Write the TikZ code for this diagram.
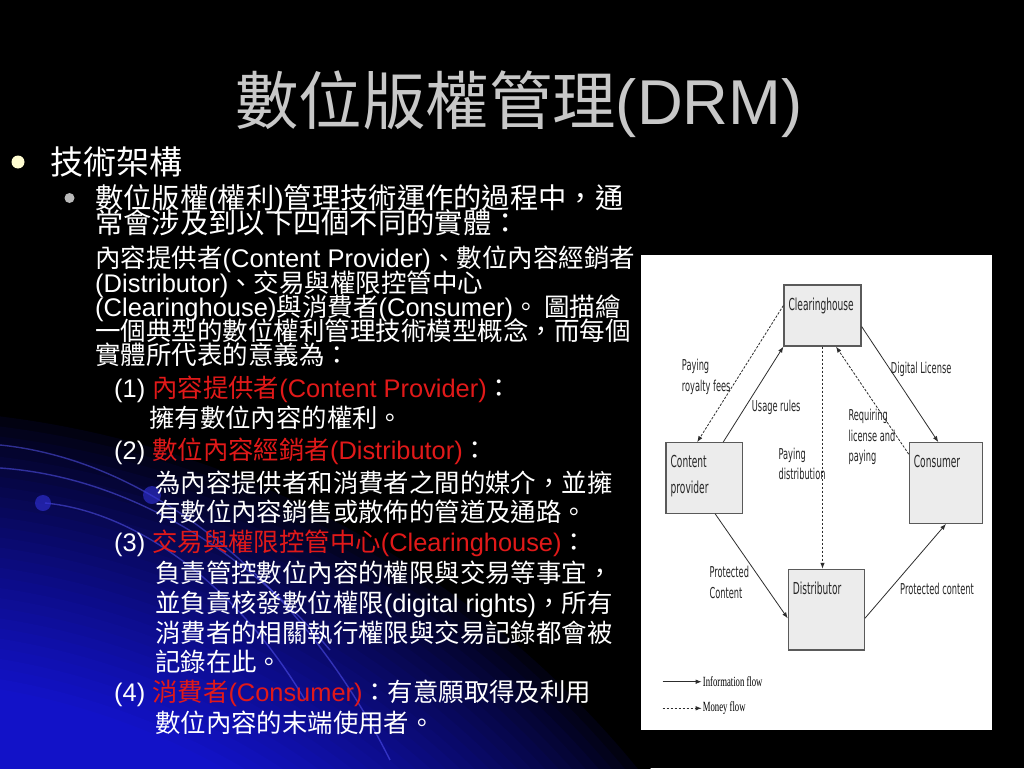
\documentclass[tikz,border=0pt]{standalone}
\usepackage{fontspec}
\setmainfont{Noto Sans CJK TC}
\newfontfamily\arial{Liberation Sans}
\newfontfamily\diafont[FakeStretch=0.55]{DejaVu Sans}
\newfontfamily\legfont[FakeStretch=0.62]{Liberation Serif}
\usepackage{xcolor}
\usetikzlibrary{arrows.meta}
\definecolor{slideblue}{RGB}{18,18,200}
\definecolor{arcblue}{RGB}{90,90,255}
\definecolor{dotblue}{RGB}{50,50,220}
\definecolor{entred}{RGB}{225,25,25}
\definecolor{titlegray}{RGB}{200,200,200}
\definecolor{boxfill}{RGB}{236,236,236}
\definecolor{boxedge}{RGB}{90,90,90}
\definecolor{flowgray}{RGB}{45,45,45}
\newcommand\en[1]{{\arial #1}}
\newcommand\ent[1]{\textcolor{entred}{#1}}

\begin{document}
\begin{tikzpicture}[x=1pt,y=-1pt,
	titletxt/.style={anchor=base,inner sep=0,text=titlegray,font=\fontsize{63.4}{63.4}\selectfont},
	lvlone/.style={anchor=base west,inner sep=0,text=white,font=\fontsize{33}{33}\selectfont},
	lvltwoa/.style={anchor=base west,inner sep=0,text=white,text height=21,text depth=3,font=\fontsize{28.3}{28.3}\selectfont},
	lvltwo/.style={anchor=base west,inner sep=0,text=white,text height=20,text depth=3,font=\fontsize{25.5}{25.5}\selectfont},
	lvlthree/.style={anchor=base west,inner sep=0,text=white,font=\fontsize{25.4}{25.4}\selectfont},
	dotone/.style={circle,fill=yellow!18,inner sep=0,minimum size=13},
	dottwo/.style={circle,fill=gray!55,inner sep=0,minimum size=10},
	arcline/.style={draw=arcblue,line width=1.4pt,opacity=0.5},
	ebox/.style={draw=boxedge,fill=boxfill,line width=1.2pt,inner sep=0},
	boxlbl/.style={anchor=north west,inner sep=0,align=left,text=black!85,font=\diafont\fontsize{16.5}{26}\selectfont},
	lbl/.style={anchor=north west,inner sep=0,align=left,text=black!85,font=\diafont\fontsize{15}{20.5}\selectfont},
	legtxt/.style={anchor=west,inner sep=1,text=black,font=\legfont\fontsize{14}{14}\selectfont},
	info/.style={draw=flowgray,line width=0.8pt,-{Latex[length=6pt,width=4.5pt]}},
	money/.style={info,dash pattern=on 2.5pt off 1.5pt}]
\useasboundingbox (0,0) rectangle (1024,768);
\fill[black] (0,0) rectangle (1024,768);
\begin{scope}
	\clip (0,0) rectangle (1024,768);
	\foreach \i in {0,...,28}{
		\pgfmathsetmacro\rad{990-10*\i}
		\pgfmathsetmacro\mix{100*(\i/28)^0.75}
		\fill[slideblue!\mix!black] (-121,1389) circle (\rad);
	}
	\draw[arcline] (0,445) .. controls (150,460) and (300,580) .. (390,760);
	\draw[arcline] (0,468) .. controls (120,476) and (240,545) .. (330,650);
	\draw[arcline] (45,503) .. controls (140,512) and (240,590) .. (305,700);
	\fill[dotblue,opacity=0.6] (43,503) circle (8);
	\fill[dotblue,opacity=0.6] (152,495) circle (9);
\end{scope}

\node[titletxt] (title) at (519,124) {數位版權管理\en{(DRM)}};

\node[dotone] (techdot) at (18,162) {};
\node[lvlone] (tech) at (50,174.5) {技術架構};
\node[dottwo] (introdot) at (69.5,198) {};
\node[lvltwoa] (introa) at (95,208.6) {數位版權\en{(}權利\en{)}管理技術運作的過程中，通};
\node[lvltwoa] (introb) at (95,233.6) {常會涉及到以下四個不同的實體：};
\node[lvltwo] (introc) at (95,267) {內容提供者\en{(Content Provider)}、數位內容經銷者};
\node[lvltwo] (introd) at (95,292) {\en{(Distributor)}、交易與權限控管中心};
\node[lvltwo] (introe) at (95,316) {\en{(Clearinghouse)}與消費者\en{(Consumer)}。 圖描繪};
\node[lvltwo] (introf) at (95,340) {一個典型的數位權利管理技術模型概念，而每個};
\node[lvltwo] (introg) at (95,364) {實體所代表的意義為：};

\node[lvlthree] (cphead) at (114,397.7) {\en{(1) }\ent{內容提供者\en{(Content Provider)}}：};
\node[lvlthree] (cpdesc) at (149,427.7) {擁有數位內容的權利。};
\node[lvlthree] (disthead) at (114,459.7) {\en{(2) }\ent{數位內容經銷者\en{(Distributor)}}：};
\node[lvlthree] (distdesca) at (155,492.7) {為內容提供者和消費者之間的媒介，並擁};
\node[lvlthree] (distdescb) at (155,521.7) {有數位內容銷售或散佈的管道及通路。};
\node[lvlthree] (chhead) at (114,551.7) {\en{(3) }\ent{交易與權限控管中心\en{(Clearinghouse)}}：};
\node[lvlthree] (chdesca) at (155,582.7) {負責管控數位內容的權限與交易等事宜，};
\node[lvlthree] (chdescb) at (155,612.7) {並負責核發數位權限\en{(digital rights)}，所有};
\node[lvlthree] (chdescc) at (155,642.7) {消費者的相關執行權限與交易記錄都會被};
\node[lvlthree] (chdescd) at (155,671.7) {記錄在此。};
\node[lvlthree] (conhead) at (114,701.7) {\en{(4) }\ent{消費者\en{(Consumer)}}：有意願取得及利用};
\node[lvlthree] (condesc) at (155,732.7) {數位內容的末端使用者。};

\fill[white] (641,255) rectangle (992,730);
\node[ebox,minimum width=77,minimum height=61] (ch) at (822.5,315.5) {};
\node[ebox,minimum width=76.3,minimum height=70.6] (cp) at (704.2,478) {};
\node[ebox,minimum width=73.4,minimum height=80.6] (con) at (946,483) {};
\node[ebox,minimum width=76,minimum height=80.7] (dist) at (826.3,609.7) {};
\node[boxlbl] (chlbl) at ([shift={(5,13)}]ch.north west) {Clearinghouse};
\node[boxlbl] (cplbl) at ([shift={(5,13)}]cp.north west) {Content\\provider};
\node[boxlbl] (conlbl) at ([shift={(5,13)}]con.north west) {Consumer};
\node[boxlbl] (distlbl) at ([shift={(5,13)}]dist.north west) {Distributor};

\draw[money] ([yshift=10]ch.west) -- ([xshift=-7]cp.north);
\draw[info] ([xshift=19]cp.north) -- (ch.south west);
\draw[money] (ch.south) -- (ch.south |- dist.north);
\draw[money] ([yshift=-12]con.north west) -- ([xshift=13.5]ch.south);
\draw[info] ([yshift=-11]ch.east) -- ([xshift=-7.7]con.north);
\draw[info] ([xshift=11]cp.south) -- ([yshift=-8.6]dist.west);
\draw[info] ([yshift=-8.6]dist.east) -- (con.south);

\node[lbl] (royaltylbl) at (681.7,359.3) {Paying\\royalty fees};
\node[lbl] (usagelbl) at (751.7,400) {Usage rules};
\node[lbl] (paydistlbl) at (778.3,447.7) {Paying\\distribution};
\node[lbl] (requirelbl) at (848.3,409) {Requiring\\license and\\paying};
\node[lbl] (licenselbl) at (890.7,362.3) {Digital License};
\node[lbl] (protcplbl) at (709.3,566) {Protected\\Content};
\node[lbl] (protconlbl) at (900,582.7) {Protected content};

\coordinate (infofrom) at (662.7,681.7);
\node[legtxt] (infolbl) at (701.7,681.7) {Information flow};
\draw[info] (infofrom) -- (infolbl.west);
\coordinate (moneyfrom) at (662.7,708.3);
\node[legtxt] (moneylbl) at (701.7,708.3) {Money flow};
\draw[money] (moneyfrom) -- (moneylbl.west);
\end{tikzpicture}
\end{document}
